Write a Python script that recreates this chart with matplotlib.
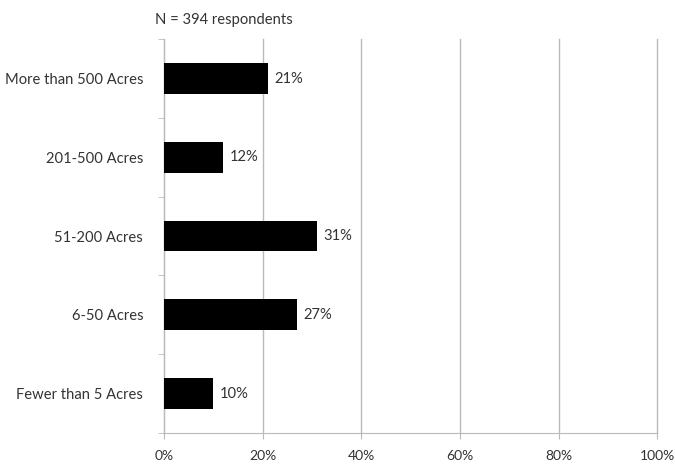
import matplotlib.pyplot as plt
from matplotlib.ticker import FixedLocator, PercentFormatter

categorias = ["More than 500 Acres", "201-500 Acres", "51-200 Acres", "6-50 Acres", "Fewer than 5 Acres"]
porcentajes = [21, 12, 31, 27, 10]
nota = "N = 394 respondents"

plt.rcParams['font.family'] = ['Lato', 'DejaVu Sans']
texto = "#333333"
gris = "#bababa"
tam = 10.6

fig = plt.figure(figsize=(6.75, 4.66), dpi=100)
ax = fig.add_axes([0.243, 0.071, 0.731, 0.845])

pos = list(range(len(categorias)))[::-1]
ax.barh(pos, porcentajes, height=0.39, color="black", zorder=3)
for p, v in zip(pos, porcentajes):
    ax.text(v + 1.3, p, f"{v}%", va="center", ha="left", fontsize=tam, color=texto)

ax.set_xlim(0, 100)
ax.set_ylim(-0.5, len(categorias) - 0.5)
ax.set_xticks(range(0, 101, 20))
ax.xaxis.set_major_formatter(PercentFormatter(decimals=0))
ax.set_yticks(pos)
ax.set_yticklabels(categorias)
ax.yaxis.set_minor_locator(FixedLocator([i - 0.5 for i in range(len(categorias) + 1)]))
ax.tick_params(axis="y", which="major", length=0, pad=15, labelsize=tam, labelcolor=texto)
ax.tick_params(axis="y", which="minor", length=4, color=gris, direction="out")
ax.tick_params(axis="x", length=4, color=gris, labelsize=10, labelcolor=texto, pad=8)
ax.grid(axis="x", color=gris, linewidth=1, zorder=0)
for linea in ax.get_xgridlines():
    linea.set_clip_on(False)
for s in ["top", "right"]:
    ax.spines[s].set_visible(False)
for s in ["left", "bottom"]:
    ax.spines[s].set_color(gris)

fig.text(155 / 675, 1 - 20 / 466, nota, ha="left", va="center", fontsize=tam, color=texto)

fig.savefig("out.png", dpi=100)
